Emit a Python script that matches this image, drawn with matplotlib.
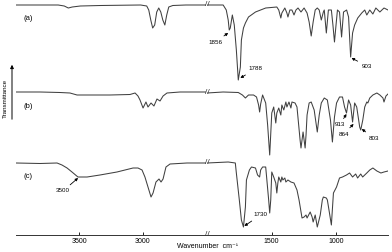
import numpy as np
import matplotlib
matplotlib.use('Agg')
from matplotlib import pyplot
from matplotlib.transforms import blended_transform_factory

pyplot.rcParams['font.family'] = ['Liberation Sans', 'DejaVu Sans']

# spectra: wavenumber (cm-1) and transmittance (arb. %)
wn_a = [4000, 3810, 3667, 3619, 3587, 3556, 3492, 3333, 3016, 2968, 2952, 2936, 2921, 2905,
        2889, 2873, 2857, 2841, 2825, 2810, 2794, 2762, 2659, 2500,
        2000, 1875, 1851, 1836, 1828, 1820, 1804, 1789, 1773, 1758, 1742, 1734, 1718, 1703,
        1679, 1625, 1546, 1460, 1445, 1429, 1421, 1398, 1382, 1374, 1359, 1343, 1327, 1312,
        1296, 1273, 1249, 1226, 1210, 1194, 1179, 1163, 1147, 1132, 1116, 1100, 1093, 1077,
        1061, 1038, 1026, 1014, 1002, 991, 975, 959, 944, 920, 905, 889, 874, 858, 834, 803,
        780, 764, 741, 717, 694, 663, 631, 600]
t_a = [100, 100, 100, 99, 97, 98, 99, 99.5, 100, 99, 95, 85, 77, 80,
       93, 97, 93, 85, 80, 90, 98, 99.5, 100, 100,
       100, 100, 95, 85, 75, 77, 90, 80, 55, 25, 38, 65, 77, 82,
       88, 93, 97, 98, 95, 87, 92, 97, 92, 88, 95, 95, 90, 95,
       97, 93, 97, 92, 83, 69, 83, 95, 97, 95, 85, 93, 95, 72,
       95, 95, 80, 63, 80, 95, 93, 68, 93, 95, 88, 48, 72, 80, 87, 92,
       95, 90, 95, 91, 97, 93, 97, 95]

wn_b = [4000, 3810, 3653, 3574, 3518, 3416, 3258, 3100, 3060, 3037, 3021, 2997, 2974, 2958,
        2934, 2911, 2887, 2863, 2839, 2808, 2705, 2508,
        2000, 1875, 1758, 1726, 1703, 1679, 1640, 1617, 1601, 1593, 1585, 1570, 1546, 1531,
        1515, 1499, 1484, 1468, 1460, 1445, 1429, 1421, 1406, 1390, 1382, 1366, 1351, 1343,
        1319, 1304, 1280, 1273, 1257, 1241, 1234, 1226, 1210, 1194, 1171, 1147, 1132, 1116,
        1093, 1069, 1045, 1030, 1014, 998, 975, 952, 936, 921, 905, 889, 874, 858, 842, 819,
        811, 795, 780, 764, 756, 741, 717, 686, 663, 639, 631, 616, 600]
t_b = [100, 100, 99.5, 99, 97, 97, 97, 97.5, 99, 96, 92, 84, 90, 85,
       89, 86, 93, 91, 96, 99, 100, 100,
       99, 100, 99.5, 97, 94, 97, 97, 95, 87, 80, 88, 97, 89, 67,
       37, 79, 85, 69, 79, 84, 77, 87, 82, 90, 85, 90, 84, 90,
       89, 85, 52, 44, 60, 44, 57, 77, 89, 90, 82, 60, 77, 89,
       94, 92, 72, 50, 75, 89, 95, 95, 85, 79, 92, 87, 70, 89, 85, 65,
       62, 72, 85, 90, 89, 94, 97, 99, 97, 94, 90, 96, 98]

wn_c = [4000, 3810, 3676, 3637, 3597, 3558, 3511, 3439, 3337, 3203, 3076, 3037, 3005, 2982,
        2958, 2934, 2918, 2895, 2871, 2855, 2839, 2816, 2784, 2650, 2508,
        2000, 1836, 1781, 1773, 1750, 1734, 1718, 1703, 1695, 1672, 1656, 1625, 1609, 1593,
        1585, 1570, 1546, 1539, 1523, 1515, 1507, 1499, 1484, 1468, 1460, 1452, 1445, 1429,
        1421, 1413, 1398, 1390, 1374, 1351, 1327, 1304, 1288, 1265, 1249, 1234, 1226, 1202,
        1187, 1179, 1163, 1147, 1124, 1108, 1100, 1077, 1069, 1054, 1038, 1022, 998, 975,
        952, 921, 897, 874, 850, 835, 811, 796, 764, 741, 717, 686, 655, 631, 600]
t_c = [100, 99.5, 100, 98, 95, 91, 86, 86, 88, 91, 95, 95, 93, 86,
       76, 66, 70, 81, 84, 81, 84, 96, 99, 100, 100,
       100, 101, 100, 90, 63, 43, 36, 56, 83, 93, 96, 95, 88, 86,
       93, 96, 96, 86, 63, 50, 63, 91, 86, 80, 70, 80, 86, 81,
       86, 83, 85, 81, 83, 81, 80, 73, 63, 45, 46, 48, 45, 51,
       46, 41, 48, 36, 48, 63, 66, 65, 63, 51, 38, 70, 76, 85,
       86, 88, 90, 86, 89, 85, 89, 86, 90, 93, 95, 92, 90, 91, 92]

spectra = [('(a)', wn_a, t_a), ('(b)', wn_b, t_b), ('(c)', wn_c, t_c)]

# labelled bands: text, which half, trace, tip (wn, T), label (wn, T)
bands = [('1856', 'R', 0, (1836, 72), (1937, 63)),
         ('1788', 'R', 0, (1742, 27), (1625, 36)),
         ('903', 'R', 0, (882, 47), (764, 39)),
         ('913', 'R', 1, (921, 78), (975, 67)),
         ('864', 'R', 1, (866, 68), (944, 58)),
         ('803', 'R', 1, (803, 63), (710, 54)),
         ('3500', 'L', 2, (3510, 85), (3629, 72)),
         ('1730', 'R', 2, (1711, 37), (1585, 48))]

offsets = [130, 43, -28]

fig = pyplot.figure(figsize=(3.92, 2.52), dpi=100)
W, H = 392.0, 252.0
axL = fig.add_axes([16/W, 17/H, 190/W, 235/H])
axR = fig.add_axes([207/W, 17/H, 181/W, 235/H])

line_kw = dict(color='#404040', lw=0.75)
for ax, lim in ((axL, (4000, 2500)), (axR, (2000, 600))):
    for (lab, wn, t), off in zip(spectra, offsets):
        ax.plot(wn, np.array(t) + off, **line_kw)
    ax.set_xlim(*lim)
    ax.set_ylim(0, 235)
    for s in ('top', 'left', 'right'):
        ax.spines[s].set_visible(False)
    ax.spines['bottom'].set_linewidth(0.7)
    ax.spines['bottom'].set_color('#333333')
    ax.set_yticks([])
    ax.tick_params(axis='x', direction='in', length=2, width=0.6, labelsize=5, pad=2)
    ax.patch.set_alpha(0)

axL.set_xticks([3500, 3000])
axR.set_xticks([1500, 1000])

for (lab, wn, t), off in zip(spectra, offsets):
    axL.text(3905, off + 86, lab, fontsize=5.5, ha='center', va='center')

# axis break marks
tr = blended_transform_factory(fig.transFigure, axL.transData)
for y in [0] + [off + 100 for off in offsets]:
    axL.text(207/W, y, '//', transform=tr, fontsize=6, ha='center', va='center',
             color='#333333', clip_on=False)

arrow_kw = dict(arrowstyle='-|>', lw=0.6, color='k', mutation_scale=4, shrinkA=1, shrinkB=0)
for text, side, k, tip, pos in bands:
    ax = axR if side == 'R' else axL
    off = offsets[k]
    ax.annotate(text, xy=(tip[0], tip[1] + off), xytext=(pos[0], pos[1] + off),
                fontsize=4.5, ha='center', va='center', arrowprops=arrow_kw)

# transmittance arrow
fig.add_artist(matplotlib.patches.FancyArrowPatch((12/W, 130/H), (12/W, 190/H),
               transform=fig.transFigure, arrowstyle='-|>', mutation_scale=5,
               lw=0.7, color='k'))
fig.text(5/W, 154/H, 'Transmittance', rotation=90, fontsize=4.5, ha='center', va='center')

fig.text(208/W, 5/H, 'Wavenumber  cm\u207b\u00b9', fontsize=5, ha='center', va='center')

pyplot.savefig('out.png', dpi=100)
